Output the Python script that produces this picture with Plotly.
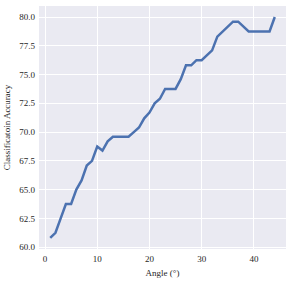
import plotly.graph_objects as go

angles = list(range(1, 45))
accuracy = [60.8, 61.25, 62.5, 63.75, 63.75, 65.0, 65.8, 67.1, 67.5, 68.75,
            68.4, 69.2, 69.6, 69.6, 69.6, 69.6, 70.0, 70.4, 71.2, 71.7,
            72.5, 72.9, 73.75, 73.75, 73.75, 74.6, 75.8, 75.8, 76.25, 76.25,
            76.7, 77.1, 78.3, 78.75, 79.2, 79.6, 79.6, 79.2, 78.75, 78.75,
            78.75, 78.75, 78.75, 80.0]
x_ticks = [0, 10, 20, 30, 40]
y_ticks = [60.0, 62.5, 65.0, 67.5, 70.0, 72.5, 75.0, 77.5, 80.0]

fig = go.Figure(go.Scatter(x=angles, y=accuracy, mode="lines",
                           line=dict(color="#4C72B0", width=2.5)))

font = dict(family="Liberation Serif, Times New Roman, serif", size=9, color="#262626")
fig.update_layout(
    width=291, height=282,
    margin=dict(l=38.5, r=5, t=6, b=32.5, autoexpand=False),
    paper_bgcolor="white", plot_bgcolor="#EAEAF2",
    font=font, showlegend=False,
    xaxis=dict(range=[-1.15, 46.15], tickvals=x_ticks, showgrid=True,
               gridcolor="white", gridwidth=1, zeroline=False, showline=False,
               ticks="", automargin=False, ticklabelstandoff=3,
               title=dict(text="Angle (°)", standoff=6, font=font)),
    yaxis=dict(range=[59.84, 80.96], tickvals=y_ticks, tickformat=".1f",
               showgrid=True, gridcolor="white", gridwidth=1, zeroline=False,
               showline=False, ticks="", automargin=False, ticklabelstandoff=3,
               title=dict(text="Classificatoin Accuracy", standoff=7, font=font)),
)
fig.write_html("out.html", config={"displayModeBar": False},
               post_script="document.body.style.margin='0';document.body.style.padding='0';")
